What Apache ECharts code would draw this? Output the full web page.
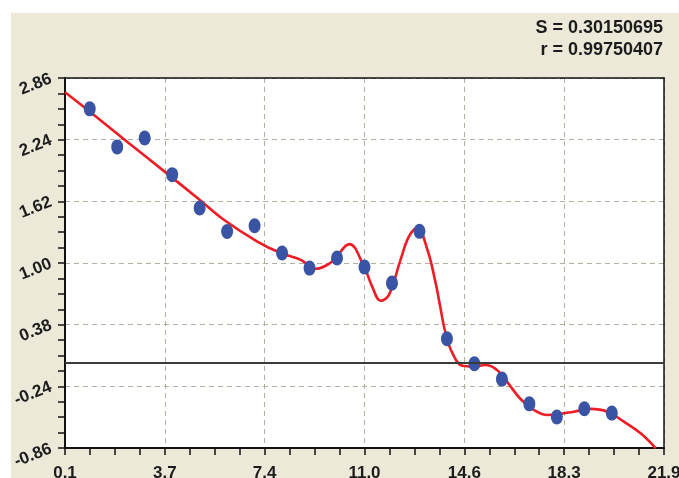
<!DOCTYPE html>
<html>
<head>
<meta charset="utf-8">
<script src="https://cdn.jsdelivr.net/npm/echarts@6/dist/echarts.min.js"></script>
<style>
  html, body { margin: 0; padding: 0; background: #ffffff; }
  #chart { width: 679px; height: 478px; }
</style>
</head>
<body>
<div id="chart"></div>
<script>
// ---- data ----
const xTicks = [0.1, 3.7333, 7.3667, 11.0, 14.6333, 18.2667, 21.9];
const yTicks = [-0.86, -0.24, 0.38, 1.00, 1.62, 2.24, 2.86];
const statLines = ['S = 0.30150695', 'r = 0.99750407'];

const pointX = [1, 2, 3, 4, 5, 6, 7, 8, 9, 10, 11, 12, 13, 14, 15, 16, 17, 18, 19, 20];
const pointY = [2.55, 2.167, 2.257, 1.888, 1.553, 1.317, 1.374, 1.10, 0.949, 1.05,
                0.959, 0.798, 1.318, 0.238, -0.013, -0.167, -0.416, -0.549, -0.466, -0.509];

const curveX = [0.1, 1.03, 2.36, 3.76, 5.03, 5.88, 7.10, 7.95, 8.68, 9.23, 9.65, 9.89,
                10.45, 10.98, 11.28, 11.59, 11.89, 12.31, 12.62, 12.92, 13.29, 13.59, 13.71,
                13.95, 14.20, 14.56, 14.98, 15.40, 15.89, 16.32, 16.68, 17.17, 17.66, 18.02,
                18.62, 19.23, 19.84, 20.44, 21.05, 21.60];
const curveY = [2.716, 2.515, 2.22, 1.911, 1.629, 1.435, 1.216, 1.100, 1.032, 0.942, 0.982, 1.032,
                1.19, 0.965, 0.763, 0.620, 0.680, 1.032, 1.267, 1.351, 1.133, 0.798, 0.629,
                0.294, 0.093, -0.032, -0.040, -0.025, -0.092, -0.243, -0.367, -0.478, -0.528, -0.521,
                -0.495, -0.467, -0.495, -0.595, -0.712, -0.863];

// ---- helpers ----
function subdivide(ticks, n) {
  const out = [];
  for (let i = 0; i < ticks.length - 1; i++) {
    for (let k = 0; k < n; k++) out.push(ticks[i] + (ticks[i + 1] - ticks[i]) * k / n);
  }
  out.push(ticks[ticks.length - 1]);
  return out;
}
const xAllTicks = subdivide(xTicks, 4);
const yAllTicks = subdivide(yTicks, 4);

const FONT = '"Liberation Sans", Arial, sans-serif';
const BEIGE = '#ECE9D8';
const gridLine = { show: true, lineStyle: { color: '#B3AE9E', type: [5, 4], width: 1 } };

const chart = echarts.init(document.getElementById('chart'), null, { renderer: 'canvas' });

const option = {
  animation: false,
  backgroundColor: BEIGE,
  grid: {
    left: 65, top: 78, width: 599, height: 370,
    containLabel: false, outerBoundsMode: 'none',
    show: true, backgroundColor: '#ffffff', borderWidth: 0
  },
  graphic: [
    { type: 'rect', left: 0, top: 0, shape: { width: 679, height: 13 }, style: { fill: '#ffffff' }, z: -10, silent: true },
    { type: 'rect', left: 0, top: 0, shape: { width: 11, height: 478 }, style: { fill: '#ffffff' }, z: -10, silent: true },
    { type: 'text', right: 16, top: 19,
      style: { text: statLines[0], font: 'bold 18px ' + FONT, fill: '#1c1c1c', textAlign: 'right' } },
    { type: 'text', right: 16, top: 41,
      style: { text: statLines[1], font: 'bold 18px ' + FONT, fill: '#1c1c1c', textAlign: 'right' } }
  ],
  xAxis: [
    {
      type: 'value', position: 'bottom', min: xTicks[0], max: xTicks[xTicks.length - 1],
      axisLine: { show: true, onZero: false, lineStyle: { color: '#111', width: 2 } },
      axisTick: { show: true, inside: false, length: 7, customValues: xAllTicks, lineStyle: { color: '#111', width: 1.5 } },
      axisLabel: {
        show: true, customValues: xTicks, margin: 17, hideOverlap: false,
        formatter: v => v.toFixed(1),
        color: '#1c1c1c', fontWeight: 'bold', fontSize: 17, fontFamily: FONT
      },
      splitLine: { show: false }
    },
    {
      type: 'value', position: 'top', min: xTicks[0], max: xTicks[xTicks.length - 1],
      axisLine: { show: true, onZero: false, lineStyle: { color: '#111', width: 1.5 } },
      axisTick: { show: false, customValues: xTicks },
      axisLabel: { show: false },
      splitLine: gridLine
    }
  ],
  yAxis: [
    {
      type: 'value', position: 'left', min: yTicks[0], max: yTicks[yTicks.length - 1],
      axisLine: { show: true, onZero: false, lineStyle: { color: '#111', width: 2 } },
      axisTick: { show: true, inside: false, length: 7, customValues: yAllTicks, lineStyle: { color: '#111', width: 1.5 } },
      axisLabel: {
        show: true, customValues: yTicks, margin: 14, rotate: 22,
        formatter: v => v.toFixed(2),
        color: '#1c1c1c', fontWeight: 'bold', fontSize: 17, fontFamily: FONT
      },
      splitLine: { show: false }
    },
    {
      type: 'value', position: 'right', min: yTicks[0], max: yTicks[yTicks.length - 1],
      axisLine: { show: true, onZero: false, lineStyle: { color: '#111', width: 1.5 } },
      axisTick: { show: false, customValues: yTicks },
      axisLabel: { show: false },
      splitLine: gridLine
    }
  ],
  series: [
    {
      type: 'line', xAxisIndex: 0, yAxisIndex: 0,
      data: curveX.map((x, i) => [x, curveY[i]]),
      smooth: 0.4, showSymbol: false, symbol: 'none', clip: true,
      lineStyle: { color: '#EE1C25', width: 2.6 },
      z: 3,
      markLine: {
        silent: true, symbol: ['none', 'none'], label: { show: false },
        lineStyle: { color: '#3c3c3c', width: 2, type: 'solid' },
        data: [{ yAxis: 0 }]
      }
    },
    {
      type: 'scatter', xAxisIndex: 0, yAxisIndex: 0,
      data: pointX.map((x, i) => [x, pointY[i]]),
      symbol: 'circle', symbolSize: [12, 15],
      itemStyle: { color: '#3954A4', opacity: 1 },
      z: 4
    }
  ]
};

chart.setOption(option);
</script>
</body>
</html>
